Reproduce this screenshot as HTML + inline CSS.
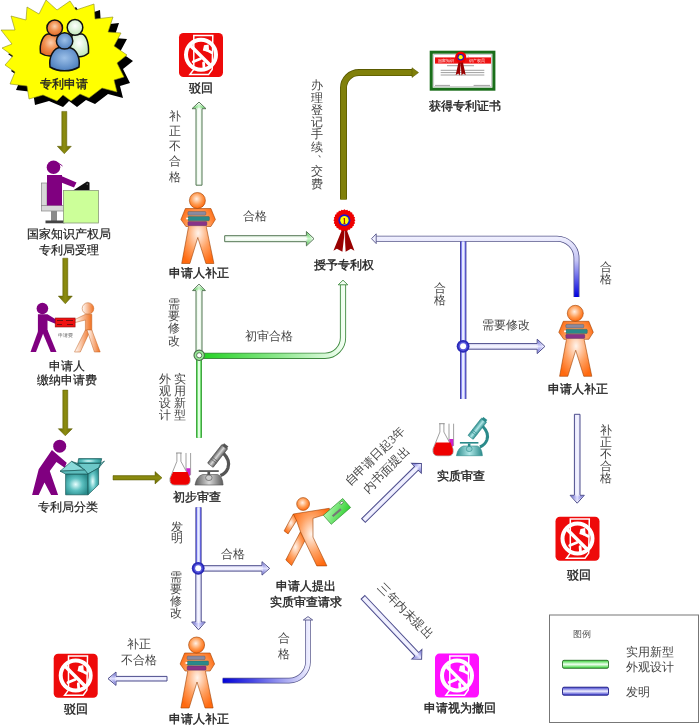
<!DOCTYPE html>
<html><head><meta charset="utf-8"><title>专利申请流程</title>
<style>html,body{margin:0;padding:0;background:#fff;}body{width:700px;height:728px;overflow:hidden;}
svg{display:block;font-family:"Liberation Serif",serif;will-change:transform;}</style></head>
<body><svg width="700" height="728" viewBox="0 0 700 728"><defs><linearGradient id="gArrG" x1="0" y1="0" x2="0" y2="1"><stop offset="0" stop-color="#b8e8b8"/><stop offset="0.5" stop-color="#ffffff"/><stop offset="1" stop-color="#b8e8b8"/></linearGradient><linearGradient id="gArrB" x1="0" y1="0" x2="0" y2="1"><stop offset="0" stop-color="#c8c8f4"/><stop offset="0.5" stop-color="#f4f4ff"/><stop offset="1" stop-color="#c8c8f4"/></linearGradient><linearGradient id="gHeadG" x1="0" y1="0" x2="0" y2="1"><stop offset="0" stop-color="#50c050"/><stop offset="0.5" stop-color="#c8f8c8"/><stop offset="1" stop-color="#50c050"/></linearGradient><linearGradient id="gHeadB" x1="0" y1="0" x2="0" y2="1"><stop offset="0" stop-color="#6060d0"/><stop offset="0.5" stop-color="#e0e0ff"/><stop offset="1" stop-color="#6060d0"/></linearGradient><linearGradient id="gOlive" x1="0" y1="0" x2="0" y2="1"><stop offset="0" stop-color="#6b6b00"/><stop offset="0.5" stop-color="#8c8c10"/><stop offset="1" stop-color="#6b6b00"/></linearGradient><radialGradient id="gOrg" cx="0.5" cy="0.45" r="0.6"><stop offset="0" stop-color="#fff4ec"/><stop offset="0.55" stop-color="#ffa060"/><stop offset="1" stop-color="#ff6a10"/></radialGradient><radialGradient id="gOrgHead" cx="0.45" cy="0.4" r="0.6"><stop offset="0" stop-color="#fff0e4"/><stop offset="0.6" stop-color="#ff9a50"/><stop offset="1" stop-color="#ff6a10"/></radialGradient><linearGradient id="gOrgLR" x1="0" y1="0" x2="1" y2="0"><stop offset="0" stop-color="#ffffff"/><stop offset="1" stop-color="#f07020"/></linearGradient><radialGradient id="gPOr" cx="0.5" cy="0.4" r="0.6"><stop offset="0" stop-color="#fbd0b0"/><stop offset="0.5" stop-color="#f09050"/><stop offset="1" stop-color="#e06a28"/></radialGradient><radialGradient id="gPGr" cx="0.5" cy="0.4" r="0.6"><stop offset="0" stop-color="#ffffff"/><stop offset="1" stop-color="#c0e8b8"/></radialGradient><radialGradient id="gPBl" cx="0.5" cy="0.45" r="0.6"><stop offset="0" stop-color="#9cc0e8"/><stop offset="1" stop-color="#4a7cbc"/></radialGradient><radialGradient id="gTeal" cx="0.45" cy="0.5" r="0.6"><stop offset="0" stop-color="#e8ffff"/><stop offset="0.5" stop-color="#5cc0c0"/><stop offset="1" stop-color="#2a8c8c"/></radialGradient><linearGradient id="gGreenL" x1="199" y1="0" x2="345" y2="0" gradientUnits="userSpaceOnUse"><stop offset="0" stop-color="#1ed01e"/><stop offset="0.55" stop-color="#8ee88e"/><stop offset="1" stop-color="#f4fff4"/></linearGradient><linearGradient id="gBlueL" x1="222" y1="0" x2="310" y2="0" gradientUnits="userSpaceOnUse"><stop offset="0" stop-color="#0000d8"/><stop offset="0.35" stop-color="#4848e4"/><stop offset="0.75" stop-color="#b0b0f2"/><stop offset="1" stop-color="#f0f0ff"/></linearGradient><linearGradient id="gBlueR" x1="0" y1="236" x2="0" y2="297" gradientUnits="userSpaceOnUse"><stop offset="0" stop-color="#f2f2ff"/><stop offset="0.4" stop-color="#c4c4f4"/><stop offset="0.75" stop-color="#5050e8"/><stop offset="1" stop-color="#0000e0"/></linearGradient><linearGradient id="gLegG" x1="0" y1="0" x2="0" y2="1"><stop offset="0" stop-color="#2ed02e"/><stop offset="0.5" stop-color="#f0fff0"/><stop offset="1" stop-color="#2ed02e"/></linearGradient><linearGradient id="gLegB" x1="0" y1="0" x2="0" y2="1"><stop offset="0" stop-color="#3a3ad0"/><stop offset="0.5" stop-color="#f0f0ff"/><stop offset="1" stop-color="#3a3ad0"/></linearGradient><linearGradient id="gCard" x1="0" y1="0" x2="1" y2="1"><stop offset="0" stop-color="#b0f8b0"/><stop offset="1" stop-color="#30d030"/></linearGradient><linearGradient id="gMicG" x1="0" y1="0" x2="1" y2="0"><stop offset="0" stop-color="#5a5a5a"/><stop offset="0.5" stop-color="#d8d8d8"/><stop offset="1" stop-color="#5a5a5a"/></linearGradient><linearGradient id="gMicT" x1="0" y1="0" x2="1" y2="0"><stop offset="0" stop-color="#2a8a8a"/><stop offset="0.5" stop-color="#b0e8e8"/><stop offset="1" stop-color="#2a8a8a"/></linearGradient></defs><rect width="700" height="728" fill="#ffffff"/><polygon points="52,6 63,16 76,7 82,16 100,10 101,25 119,23 114,38 127,39 120,52 133,61 123,69 130,83 120,86 123,98 108,94 95,104 86,100 77,107 69,101 63,107 49,101 35,105 33,92 16,90 21,78 11,71 19,62 8,54 18,50 7,36 21,36 17,22 32,26 33,13 45,20" fill="#000"/><polygon points="46,0 57,10 70,1 76,10 94,4 95,19 113,17 108,32 121,33 114,46 127,55 117,63 124,77 114,80 117,92 102,88 89,98 80,94 71,101 63,95 57,101 43,95 29,99 27,86 10,84 15,72 5,65 13,56 2,48 12,44 1,30 15,30 11,16 26,20 27,7 39,14" fill="#ffff00" stroke="#8a8a20" stroke-width="0.6"/><g stroke="#111" stroke-width="1.5"><path d="M40.5,53 C39,42 44,34.5 48,34 L56,34 C60,36 62,42 61,52 C55,57 46,57 40.5,53 Z" fill="url(#gPOr)"/><circle cx="54.7" cy="27.9" r="7.8" fill="url(#gPOr)"/><path d="M70,53 C69,42 71,35 74,34 L82,34 C86,35 89,42 88.5,53 C83,58 75,58 70,53 Z" fill="url(#gPGr)"/><circle cx="75" cy="27.4" r="7.8" fill="url(#gPGr)"/><path d="M50,67 C48.5,56 54,48 60,47.5 L69,47.5 C76,48.5 80.5,57 79,67 C71,72 58,72 50,67 Z" fill="url(#gPBl)"/><circle cx="64.6" cy="40.9" r="8.2" fill="url(#gPBl)"/></g><text x="64" y="87.5" font-size="12" fill="#222" font-weight="normal" text-anchor="middle" stroke="#222" stroke-width="0.35">专利申请</text><g transform="translate(64.30,111.40) rotate(90.00)"><polygon points="0,-2.5 34.899999999999984,-2.5 34.899999999999984,-7 42.30,0 34.899999999999984,7 34.899999999999984,2.5 0,2.5" fill="url(#gOlive)" stroke="#5a5a00" stroke-width="0.5"/></g><g transform="translate(65.30,258.20) rotate(90.00)"><polygon points="0,-2.5 37.90000000000002,-2.5 37.90000000000002,-7 45.60,0 37.90000000000002,7 37.90000000000002,2.5 0,2.5" fill="url(#gOlive)" stroke="#5a5a00" stroke-width="0.5"/></g><g transform="translate(65.30,390.10) rotate(90.00)"><polygon points="0,-2.5 38.59999999999999,-2.5 38.59999999999999,-7 45.70,0 38.59999999999999,7 38.59999999999999,2.5 0,2.5" fill="url(#gOlive)" stroke="#5a5a00" stroke-width="0.5"/></g><g transform="translate(113.00,477.80) rotate(0.00)"><polygon points="0,-2.2 42.0,-2.2 42.0,-6.2 49.00,0 42.0,6.2 42.0,2.2 0,2.2" fill="url(#gOlive)" stroke="#5a5a00" stroke-width="0.5"/></g><g><rect x="41.5" y="183" width="5.5" height="23" fill="#d8d8d8" stroke="#888" stroke-width="0.7"/><rect x="41.5" y="205.5" width="23" height="5.5" fill="#d8d8d8" stroke="#888" stroke-width="0.7"/><rect x="51" y="211" width="6" height="10" fill="#8a8a8a"/><rect x="45.5" y="220.5" width="19" height="2.8" fill="#444"/><rect x="47" y="175" width="15" height="30.5" fill="#800080"/><polygon points="59,175 76.5,182.5 74,187.5 60,182" fill="#800080"/><circle cx="53.5" cy="167.3" r="6.8" fill="#800080"/><path d="M57,163 Q60,163.5 62.5,166" stroke="#800080" stroke-width="0.9" fill="none"/><polygon points="73,190.5 87,181.5 89.5,182.5 89.5,190.5" fill="#111"/><circle cx="87.2" cy="184" r="0.6" fill="#ccc"/><rect x="63.5" y="190.5" width="35" height="32.5" fill="#ccff99" stroke="#8a9a7a" stroke-width="0.8"/></g><text x="68.9" y="237.5" font-size="12" fill="#222" font-weight="normal" text-anchor="middle" stroke="#222" stroke-width="0.2">国家知识产权局</text><text x="69.3" y="254" font-size="12" fill="#222" font-weight="normal" text-anchor="middle" stroke="#222" stroke-width="0.2">专利局受理</text><g fill="#800080"><circle cx="42.4" cy="308.5" r="5.8"/><polygon points="37.9,314.3 47.5,314.3 56,319.5 56,324 47.5,320.5 47.5,332.3 37.9,332.3"/><polygon points="38.5,330 44.5,330 36,352 30.5,352"/><polygon points="41.5,330 47.5,330 56.5,352 50.7,352"/></g><g fill="url(#gOrgLR)" stroke="#c06020" stroke-width="0.5"><circle cx="88" cy="308.5" r="5.8"/><polygon points="91.8,314.3 85.4,314.3 75,319.5 75,322.5 85.4,320 85.4,332.3 91.8,332.3"/><polygon points="85.4,330 90.5,330 80.3,352 74.5,352"/><polygon points="87,330 91.8,330 100.2,352 94.4,352"/></g><rect x="55.2" y="318" width="19.9" height="9" fill="#ee1111" stroke="#881111" stroke-width="0.6"/><path d="M57,320.5 h6 M66,320.5 h7 M57,324.5 h5 M67,324.5 h6" stroke="#661111" stroke-width="0.9"/><text x="65.2" y="337" font-size="5.2" fill="#666" font-weight="normal" text-anchor="middle" >申请费</text><text x="67" y="369.5" font-size="12" fill="#222" font-weight="normal" text-anchor="middle" stroke="#222" stroke-width="0.2">申请人</text><text x="66.8" y="384" font-size="12" fill="#222" font-weight="normal" text-anchor="middle" stroke="#222" stroke-width="0.2">缴纳申请费</text><g fill="#800080"><circle cx="59.7" cy="446.2" r="6.5"/><polygon points="51.9,450 66.7,462.7 64.7,467.7 56.4,461.9 49.8,471 58.1,494.9 51.1,494.9 44.5,482.5 38.7,494.9 32.1,494.9 38.7,469.3"/></g><g stroke="#1a5a5a" stroke-width="0.7" stroke-linejoin="round"><polygon points="71.5,461.4 77.8,463.4 100.6,463.4 98.6,468 88,474 84.9,470" fill="#2f9090"/><polygon points="78.6,458.6 101.7,458.6 100.6,463.4 77.8,463.4" fill="url(#gTeal)"/><polygon points="98.6,468 104.5,461 100.6,463.4" fill="#7fd4d4"/><polygon points="77.8,463.4 100.6,463.4 98.6,468 88,474" fill="#6cc8c8"/><rect x="65.6" y="474" width="22.4" height="20.8" fill="url(#gTeal)"/><polygon points="88,474 98.6,468 98.6,484.6 88,494.8" fill="url(#gTeal)"/><polygon points="60.1,471.2 71.5,461.4 84.9,470" fill="#8adada"/><polygon points="60.1,471.2 65.6,474 88,474 84.9,470" fill="#5cbcbc"/></g><text x="68" y="510.5" font-size="12" fill="#222" font-weight="normal" text-anchor="middle" stroke="#222" stroke-width="0.2">专利局分类</text><g transform="translate(179,33)"><rect x="0" y="0" width="44" height="44" rx="4.5" fill="#ee0a0a"/><path d="M14.8,2.4 L33.8,2.4 L33.2,36.4 L29.5,41.6 L10.9,41.6 L14.8,36.4 Z" fill="none" stroke="#fff" stroke-width="1.5" stroke-linejoin="miter"/><polygon points="25,12.2 29.6,11.4 30,16 28.4,18.8 23.8,17.4" fill="#fff"/><path d="M28,17 L32.6,19.6 M21.5,25.8 L14.2,28.8 M24.6,30 L25,35" stroke="#fff" stroke-width="2.8" fill="none" stroke-linecap="round"/><circle cx="22" cy="21.8" r="15" fill="none" stroke="#fff" stroke-width="4"/><line x1="11.2" y1="12.3" x2="31.5" y2="32.6" stroke="#fff" stroke-width="3.5"/></g><text x="200.5" y="91.5" font-size="12" fill="#222" font-weight="normal" text-anchor="middle" stroke="#222" stroke-width="0.35">驳回</text><g transform="translate(555.5,516.7)"><rect x="0" y="0" width="44" height="44" rx="4.5" fill="#ee0a0a"/><path d="M14.8,2.4 L33.8,2.4 L33.2,36.4 L29.5,41.6 L10.9,41.6 L14.8,36.4 Z" fill="none" stroke="#fff" stroke-width="1.5" stroke-linejoin="miter"/><polygon points="25,12.2 29.6,11.4 30,16 28.4,18.8 23.8,17.4" fill="#fff"/><path d="M28,17 L32.6,19.6 M21.5,25.8 L14.2,28.8 M24.6,30 L25,35" stroke="#fff" stroke-width="2.8" fill="none" stroke-linecap="round"/><circle cx="22" cy="21.8" r="15" fill="none" stroke="#fff" stroke-width="4"/><line x1="11.2" y1="12.3" x2="31.5" y2="32.6" stroke="#fff" stroke-width="3.5"/></g><text x="579.2" y="579" font-size="12" fill="#222" font-weight="normal" text-anchor="middle" stroke="#222" stroke-width="0.35">驳回</text><g transform="translate(53.7,653.7)"><rect x="0" y="0" width="44" height="44" rx="4.5" fill="#ee0a0a"/><path d="M14.8,2.4 L33.8,2.4 L33.2,36.4 L29.5,41.6 L10.9,41.6 L14.8,36.4 Z" fill="none" stroke="#fff" stroke-width="1.5" stroke-linejoin="miter"/><polygon points="25,12.2 29.6,11.4 30,16 28.4,18.8 23.8,17.4" fill="#fff"/><path d="M28,17 L32.6,19.6 M21.5,25.8 L14.2,28.8 M24.6,30 L25,35" stroke="#fff" stroke-width="2.8" fill="none" stroke-linecap="round"/><circle cx="22" cy="21.8" r="15" fill="none" stroke="#fff" stroke-width="4"/><line x1="11.2" y1="12.3" x2="31.5" y2="32.6" stroke="#fff" stroke-width="3.5"/></g><text x="75.6" y="713.3" font-size="12" fill="#222" font-weight="normal" text-anchor="middle" stroke="#222" stroke-width="0.35">驳回</text><g transform="translate(435,653.6)"><rect x="0" y="0" width="44" height="44" rx="4.5" fill="#ff10ff"/><path d="M14.8,2.4 L33.8,2.4 L33.2,36.4 L29.5,41.6 L10.9,41.6 L14.8,36.4 Z" fill="none" stroke="#fff" stroke-width="1.5" stroke-linejoin="miter"/><polygon points="25,12.2 29.6,11.4 30,16 28.4,18.8 23.8,17.4" fill="#fff"/><path d="M28,17 L32.6,19.6 M21.5,25.8 L14.2,28.8 M24.6,30 L25,35" stroke="#fff" stroke-width="2.8" fill="none" stroke-linecap="round"/><circle cx="22" cy="21.8" r="15" fill="none" stroke="#fff" stroke-width="4"/><line x1="11.2" y1="12.3" x2="31.5" y2="32.6" stroke="#fff" stroke-width="3.5"/></g><text x="460.4" y="711.6" font-size="12" fill="#222" font-weight="normal" text-anchor="middle" stroke="#222" stroke-width="0.35">申请视为撤回</text><g transform="translate(197.4,200.5)"><g stroke="#a04000" stroke-width="0.6"><path d="M-12,8 L13.5,8 L18,19 L13.5,26 L9,26 L9,27 L16.5,63 L8.5,63 L0.4,37 L-7.5,63 L-15.7,63 L-9,27 L-9,26 L-11.5,26 L-16.5,19 Z" fill="url(#gOrg)"/><circle cx="0" cy="0" r="8" fill="url(#gOrgHead)"/></g><rect x="-9.5" y="11" width="18" height="3.7" rx="1" fill="#8a8aa0" stroke="#555" stroke-width="0.4"/><rect x="-9.5" y="16" width="21.5" height="4.3" rx="1" fill="#2a8a8a" stroke="#355" stroke-width="0.4"/><rect x="-9.5" y="21" width="19" height="4.2" rx="1" fill="#883388" stroke="#535" stroke-width="0.4"/><circle cx="-10.2" cy="18" r="1.1" fill="#fff"/></g><text x="199" y="277" font-size="12" fill="#222" font-weight="normal" text-anchor="middle" stroke="#222" stroke-width="0.35">申请人补正</text><g transform="translate(575.3,313.3)"><g stroke="#a04000" stroke-width="0.6"><path d="M-12,8 L13.5,8 L18,19 L13.5,26 L9,26 L9,27 L16.5,63 L8.5,63 L0.4,37 L-7.5,63 L-15.7,63 L-9,27 L-9,26 L-11.5,26 L-16.5,19 Z" fill="url(#gOrg)"/><circle cx="0" cy="0" r="8" fill="url(#gOrgHead)"/></g><rect x="-9.5" y="11" width="18" height="3.7" rx="1" fill="#8a8aa0" stroke="#555" stroke-width="0.4"/><rect x="-9.5" y="16" width="21.5" height="4.3" rx="1" fill="#2a8a8a" stroke="#355" stroke-width="0.4"/><rect x="-9.5" y="21" width="19" height="4.2" rx="1" fill="#883388" stroke="#535" stroke-width="0.4"/><circle cx="-10.2" cy="18" r="1.1" fill="#fff"/></g><text x="577.5" y="392.5" font-size="12" fill="#222" font-weight="normal" text-anchor="middle" stroke="#222" stroke-width="0.35">申请人补正</text><g transform="translate(196.6,645)"><g stroke="#a04000" stroke-width="0.6"><path d="M-12,8 L13.5,8 L18,19 L13.5,26 L9,26 L9,27 L16.5,63 L8.5,63 L0.4,37 L-7.5,63 L-15.7,63 L-9,27 L-9,26 L-11.5,26 L-16.5,19 Z" fill="url(#gOrg)"/><circle cx="0" cy="0" r="8" fill="url(#gOrgHead)"/></g><rect x="-9.5" y="11" width="18" height="3.7" rx="1" fill="#8a8aa0" stroke="#555" stroke-width="0.4"/><rect x="-9.5" y="16" width="21.5" height="4.3" rx="1" fill="#2a8a8a" stroke="#355" stroke-width="0.4"/><rect x="-9.5" y="21" width="19" height="4.2" rx="1" fill="#883388" stroke="#535" stroke-width="0.4"/><circle cx="-10.2" cy="18" r="1.1" fill="#fff"/></g><text x="198.5" y="723" font-size="12" fill="#222" font-weight="normal" text-anchor="middle" stroke="#222" stroke-width="0.35">申请人补正</text><g transform="translate(199.00,185.20) rotate(-90.00)"><polygon points="0,-3 76.5,-3 76.5,-7 83.10,0 76.5,7 76.5,3 0,3" fill="url(#gArrG)" stroke="#557755" stroke-width="1" stroke-linejoin="miter"/><polygon points="77.1,-5.7 81.50,0 77.1,5.7" fill="url(#gHeadG)" opacity="0.9"/><rect x="76.0" y="-2.5" width="1.4" height="5" fill="url(#gArrG)"/></g><g transform="translate(224.70,238.70) rotate(0.00)"><polygon points="0,-3 81.70000000000002,-3 81.70000000000002,-7.2 89.30,0 81.70000000000002,7.2 81.70000000000002,3 0,3" fill="url(#gArrG)" stroke="#557755" stroke-width="1" stroke-linejoin="miter"/><polygon points="82.30000000000001,-5.9 87.70,0 82.30000000000001,5.9" fill="url(#gHeadG)" opacity="0.9"/><rect x="81.20000000000002" y="-2.5" width="1.4" height="5" fill="url(#gArrG)"/></g><path d="M199,437.8 L199,355" fill="none" stroke="#3f983f" stroke-width="6" stroke-linecap="butt"/><path d="M199,437.8 L199,355" fill="none" stroke="#48cc48" stroke-width="4.6"/><path d="M199,437.8 L199,355" fill="none" stroke="#a8eea8" stroke-width="3"/><path d="M199,437.8 L199,355" fill="none" stroke="#e8ffe8" stroke-width="1.7999999999999998"/><g transform="translate(199.00,355.00) rotate(-90.00)"><polygon points="0,-3 64.39999999999998,-3 64.39999999999998,-6.4 70.90,0 64.39999999999998,6.4 64.39999999999998,3 0,3" fill="url(#gArrG)" stroke="#557755" stroke-width="1" stroke-linejoin="miter"/><polygon points="64.99999999999997,-5.1000000000000005 69.30,0 64.99999999999997,5.1000000000000005" fill="url(#gHeadG)" opacity="0.9"/><rect x="63.89999999999998" y="-2.5" width="1.4" height="5" fill="url(#gArrG)"/></g><path d="M199,355.8 L325,355.8 A18,18 0 0 0 343,337.8 L343,284.5" fill="none" stroke="#3f8a3f" stroke-width="6.2"/><path d="M199,355.8 L325,355.8 A18,18 0 0 0 343,337.8 L343,284.5" fill="none" stroke="url(#gGreenL)" stroke-width="4.4"/><polygon points="338.2,284.8 343,280.2 347.8,284.8" fill="#f4fff4" stroke="#3f8a3f" stroke-width="0.9"/><circle cx="199.2" cy="355.3" r="5.2" fill="#98ec98" stroke="#4a6a4a" stroke-width="1.1"/><circle cx="199.2" cy="355.3" r="2.6" fill="#ffffff" stroke="#4a6a4a" stroke-width="0.9"/><path d="M343.5,199.5 L343.5,88 A15.5,15.5 0 0 1 359,72.6 L413,72.6" fill="none" stroke="#5a5a00" stroke-width="7"/><path d="M343.5,199.5 L343.5,88 A15.5,15.5 0 0 1 359,72.6 L413,72.6" fill="none" stroke="#80800a" stroke-width="5.4"/><polygon points="412,67.8 418.5,72.6 412,77.4" fill="#80800a" stroke="#5a5a00" stroke-width="0.6"/><path d="M198.5,507.3 L198.5,568" fill="none" stroke="#3c3c8c" stroke-width="6.2" stroke-linecap="butt"/><path d="M198.5,507.3 L198.5,568" fill="none" stroke="#6a6aee" stroke-width="4.6"/><path d="M198.5,507.3 L198.5,568" fill="none" stroke="#b4b4fa" stroke-width="3.0"/><path d="M198.5,507.3 L198.5,568" fill="none" stroke="#e8eeff" stroke-width="2.0"/><g transform="translate(198.50,568.40) rotate(0.00)"><polygon points="0,-2.7 63.50000000000002,-2.7 63.50000000000002,-6.7 71.10,0 63.50000000000002,6.7 63.50000000000002,2.7 0,2.7" fill="url(#gArrB)" stroke="#4c4c8c" stroke-width="1" stroke-linejoin="miter"/><polygon points="64.10000000000002,-5.4 69.50,0 64.10000000000002,5.4" fill="url(#gHeadB)" opacity="0.9"/><rect x="63.00000000000002" y="-2.2" width="1.4" height="4.4" fill="url(#gArrB)"/></g><g transform="translate(198.50,568.40) rotate(90.00)"><polygon points="0,-2.7 53.59999999999998,-2.7 53.59999999999998,-6.8 61.40,0 53.59999999999998,6.8 53.59999999999998,2.7 0,2.7" fill="url(#gArrB)" stroke="#4c4c8c" stroke-width="1" stroke-linejoin="miter"/><polygon points="54.19999999999998,-5.5 59.80,0 54.19999999999998,5.5" fill="url(#gHeadB)" opacity="0.9"/><rect x="53.09999999999998" y="-2.2" width="1.4" height="4.4" fill="url(#gArrB)"/></g><circle cx="198.2" cy="568.3" r="6.4" fill="#2a2ab8"/><circle cx="198.2" cy="568.3" r="4.6" fill="#5656dc"/><circle cx="198.2" cy="568.3" r="3" fill="#ffffff"/><g transform="translate(167.00,678.70) rotate(180.00)"><polygon points="0,-2.3 51.0,-2.3 51.0,-6.7 59.00,0 51.0,6.7 51.0,2.3 0,2.3" fill="url(#gArrB)" stroke="#4c4c8c" stroke-width="1" stroke-linejoin="miter"/><polygon points="51.6,-5.4 57.40,0 51.6,5.4" fill="url(#gHeadB)" opacity="0.9"/><rect x="50.5" y="-1.7999999999999998" width="1.4" height="3.5999999999999996" fill="url(#gArrB)"/></g><path d="M222.7,680.6 L289,680.6 A19,19 0 0 0 308,661.6 L308,620" fill="none" stroke="#55558a" stroke-width="5.6"/><path d="M222.7,680.6 L289,680.6 A19,19 0 0 0 308,661.6 L308,620" fill="none" stroke="url(#gBlueL)" stroke-width="4.2"/><polygon points="303.3,620 308,616.6 312.7,620" fill="#f4f4ff" stroke="#55558a" stroke-width="0.9"/><g transform="translate(363.50,520.50) rotate(-44.60)"><polygon points="0,-2.6 74.41924741412699,-2.6 74.41924741412699,-6.9 81.32,0 74.41924741412699,6.9 74.41924741412699,2.6 0,2.6" fill="url(#gArrB)" stroke="#4c4c8c" stroke-width="1" stroke-linejoin="miter"/><polygon points="75.01924741412698,-5.6000000000000005 79.72,0 75.01924741412698,5.6000000000000005" fill="url(#gHeadB)" opacity="0.9"/><rect x="73.91924741412699" y="-2.1" width="1.4" height="4.2" fill="url(#gArrB)"/></g><g transform="translate(363.00,597.30) rotate(46.61)"><polygon points="0,-2.6 78.41096060882214,-2.6 78.41096060882214,-6.9 85.31,0 78.41096060882214,6.9 78.41096060882214,2.6 0,2.6" fill="url(#gArrB)" stroke="#4c4c8c" stroke-width="1" stroke-linejoin="miter"/><polygon points="79.01096060882213,-5.6000000000000005 83.71,0 79.01096060882213,5.6000000000000005" fill="url(#gHeadB)" opacity="0.9"/><rect x="77.91096060882214" y="-2.1" width="1.4" height="4.2" fill="url(#gArrB)"/></g><path d="M376,238.7 L557,238.7 A19.5,19.5 0 0 1 576.5,258.2 L576.5,297" fill="none" stroke="#55558a" stroke-width="6"/><path d="M376,238.7 L557,238.7 A19.5,19.5 0 0 1 576.5,258.2 L576.5,297" fill="none" stroke="url(#gBlueR)" stroke-width="4.4"/><polygon points="376.2,233.8 371.5,238.7 376.2,243.6" fill="#f0f0ff" stroke="#55558a" stroke-width="0.9"/><path d="M463.2,241.6 L463.2,399" fill="none" stroke="#3c3c8c" stroke-width="6.4" stroke-linecap="butt"/><path d="M463.2,241.6 L463.2,399" fill="none" stroke="#6a6aee" stroke-width="4.800000000000001"/><path d="M463.2,241.6 L463.2,399" fill="none" stroke="#b4b4fa" stroke-width="3.2"/><path d="M463.2,241.6 L463.2,399" fill="none" stroke="#e8eeff" stroke-width="2.2"/><g transform="translate(463.00,346.40) rotate(0.00)"><polygon points="0,-2.8 74.19999999999997,-2.8 74.19999999999997,-7.2 81.90,0 74.19999999999997,7.2 74.19999999999997,2.8 0,2.8" fill="url(#gArrB)" stroke="#4c4c8c" stroke-width="1" stroke-linejoin="miter"/><polygon points="74.79999999999997,-5.9 80.30,0 74.79999999999997,5.9" fill="url(#gHeadB)" opacity="0.9"/><rect x="73.69999999999997" y="-2.3" width="1.4" height="4.6" fill="url(#gArrB)"/></g><circle cx="463.1" cy="346.3" r="6.4" fill="#2a2ab8"/><circle cx="463.1" cy="346.3" r="4.6" fill="#5656dc"/><circle cx="463.1" cy="346.3" r="3" fill="#ffffff"/><g transform="translate(577.20,414.30) rotate(90.00)"><polygon points="0,-2.8 80.99999999999997,-2.8 80.99999999999997,-7.1 88.90,0 80.99999999999997,7.1 80.99999999999997,2.8 0,2.8" fill="url(#gArrB)" stroke="#4c4c8c" stroke-width="1" stroke-linejoin="miter"/><polygon points="81.59999999999997,-5.8 87.30,0 81.59999999999997,5.8" fill="url(#gHeadB)" opacity="0.9"/><rect x="80.49999999999997" y="-2.3" width="1.4" height="4.6" fill="url(#gArrB)"/></g><g transform="translate(344.4,220.3)"><polygon points="-1.0,6.0 -11.0,30.5 -7.5,28.5 -2.0,31.5 0.6,9.0" fill="#990000"/><polygon points="1.0,6.0 10.0,30.5 6.5,28.5 1.2,31.5 -0.2,9.0" fill="#990000"/><path d="M0.2,10.0 L0.4,31.0" stroke="#fff" stroke-width="0.5"/><polygon points="11.00,0.00 10.03,1.32 10.63,2.85 9.35,3.87 9.53,5.50 8.03,6.16 7.78,7.78 6.16,8.03 5.50,9.53 3.87,9.35 2.85,10.63 1.32,10.03 0.00,11.00 -1.32,10.03 -2.85,10.63 -3.87,9.35 -5.50,9.53 -6.16,8.03 -7.78,7.78 -8.03,6.16 -9.53,5.50 -9.35,3.87 -10.63,2.85 -10.03,1.32 -11.00,0.00 -10.03,-1.32 -10.63,-2.85 -9.35,-3.87 -9.53,-5.50 -8.03,-6.16 -7.78,-7.78 -6.16,-8.03 -5.50,-9.53 -3.87,-9.35 -2.85,-10.63 -1.32,-10.03 -0.00,-11.00 1.32,-10.03 2.85,-10.63 3.87,-9.35 5.50,-9.53 6.16,-8.03 7.78,-7.78 8.03,-6.16 9.53,-5.50 9.35,-3.87 10.63,-2.85 10.03,-1.32" fill="#ee0000"/><circle r="6.05" fill="#1a1acc"/><circle r="4.18" fill="#ffff00"/><text x="0" y="3.30" font-size="8.25" fill="#aa2200" font-weight="bold" text-anchor="middle">1</text></g><text x="344" y="268.5" font-size="12" fill="#222" font-weight="normal" text-anchor="middle" stroke="#222" stroke-width="0.35">授予专利权</text><rect x="431.2" y="52.2" width="62.7" height="37" fill="#fff" stroke="#1a6e1a" stroke-width="3"/><rect x="433.8" y="54.6" width="57.5" height="32.2" fill="none" stroke="#999" stroke-width="0.5"/><rect x="435" y="57.4" width="56" height="6.2" fill="#ee1111"/><text x="446" y="62.3" font-size="4.3" fill="#fff" text-anchor="middle">国家知识</text><text x="477" y="62.3" font-size="4.3" fill="#fff" text-anchor="middle">识产权局</text><path d="M447,65.7 h27 M440.7,70.3 h43.6 M440.7,72.6 h43.6 M440.7,75 h43.6 M435,85.4 h15 M473.6,85.4 h16.4" stroke="#777" stroke-width="0.7"/><polygon points="459,60 455.7,75 458.3,73.5 459.8,75.5 461,61" fill="#990000"/><polygon points="462.4,60 465.7,75 463.1,73.5 461.6,75.5 460.4,61" fill="#990000"/><path d="M465,55 Q468,54.5 469,56.5 L466,58" fill="#fff" stroke="#aaa" stroke-width="0.4"/><circle cx="460.7" cy="57.2" r="5.6" fill="#ee0000"/><circle cx="460.7" cy="57.2" r="3.2" fill="#1a1acc"/><circle cx="460.7" cy="57.2" r="2.1" fill="#ffff00"/><text x="465.3" y="110" font-size="12" fill="#222" font-weight="normal" text-anchor="middle" stroke="#222" stroke-width="0.35">获得专利证书</text><g stroke="#a04000" stroke-width="0.6" fill="url(#gOrg)"><polygon points="293.3,514 297.5,519 288.1,533.9 284.1,530.9"/><polygon points="300.4,531.8 305,540.4 291.6,565.6 285.8,560"/><polygon points="293.3,514 329.3,508.3 329.6,513.2 313,518.3 313,537.1 326.9,565.9 316.8,565.9 300.6,532 296.3,520"/><circle cx="303.1" cy="504" r="6.4" fill="url(#gOrgHead)"/></g><g transform="translate(337,511.4) rotate(-41)"><rect x="-12.8" y="-6" width="25.6" height="12" fill="url(#gCard)" stroke="#228822" stroke-width="0.6"/><rect x="-6.5" y="-0.3" width="11" height="2.2" fill="#777"/><path d="M7.5,-4.5 l3,0 l0,2 l-3,0 z" fill="#fff" stroke="#333" stroke-width="0.5"/></g><text x="306" y="590" font-size="12" fill="#222" font-weight="normal" text-anchor="middle" stroke="#222" stroke-width="0.35">申请人提出</text><text x="305.7" y="606" font-size="12" fill="#222" font-weight="normal" text-anchor="middle" stroke="#222" stroke-width="0.35">实质审查请求</text><g transform="translate(432.4,416)"><path d="M16.6,7.7 L16.6,29.5 Q18.9,32.5 21.2,29.5 L21.2,7.7" fill="#fff" stroke="#777" stroke-width="0.7"/><path d="M16.9,23 L16.9,29.4 Q18.9,32 20.9,29.4 L20.9,23 Z" fill="#cc22cc"/><path d="M7.5,7.7 L7.5,16 L0.6,33 Q0,39.7 5,39.7 L16.5,39.7 Q21.6,39.7 20.6,33 L11.5,16 L11.5,7.7" fill="#fff" stroke="#777" stroke-width="0.7"/><path d="M3.6,26.6 L18.2,26.6 L20.4,33 Q21.3,39.4 16.5,39.4 L5,39.4 Q0.2,39.4 0.9,33 Z" fill="#ee0000"/><path d="M6.7,7.7 h5.6" stroke="#777" stroke-width="0.8"/><g transform="translate(24,39.7) scale(1.0) translate(-24,-39.7)"><path d="M50,10 Q57,17 54.5,24 Q52.5,29 47.5,31" fill="none" stroke="#2a8a8a" stroke-width="3"/><path d="M24,39.7 Q25.5,31.5 31,30 L45,30 Q49.5,31.5 50,39.7 Z" fill="url(#gMicT)" stroke="#2a8a8a" stroke-width="0.6"/><ellipse cx="36.8" cy="33" rx="3" ry="2.6" fill="#8ed0d0" stroke="#2a8a8a" stroke-width="0.6"/><rect x="27.5" y="26" width="18.5" height="1.6" fill="#2a8a8a"/><rect x="35.5" y="27.5" width="2.5" height="3" fill="#2a8a8a"/><g transform="translate(44.3,13.5) rotate(38)"><rect x="-3.3" y="-12" width="6.6" height="22" rx="0.6" fill="url(#gMicT)" stroke="#2a8a8a" stroke-width="0.6"/><rect x="-2.5" y="-14" width="5" height="3" fill="#2a8a8a"/><path d="M-3.3,3 h6.6 M-3.3,5 h6.6" stroke="#2a8a8a" stroke-width="0.6"/></g></g></g><g transform="translate(169.4,445.3)"><path d="M16.6,7.7 L16.6,29.5 Q18.9,32.5 21.2,29.5 L21.2,7.7" fill="#fff" stroke="#777" stroke-width="0.7"/><path d="M16.9,23 L16.9,29.4 Q18.9,32 20.9,29.4 L20.9,23 Z" fill="#cc22cc"/><path d="M7.5,7.7 L7.5,16 L0.6,33 Q0,39.7 5,39.7 L16.5,39.7 Q21.6,39.7 20.6,33 L11.5,16 L11.5,7.7" fill="#fff" stroke="#777" stroke-width="0.7"/><path d="M3.6,26.6 L18.2,26.6 L20.4,33 Q21.3,39.4 16.5,39.4 L5,39.4 Q0.2,39.4 0.9,33 Z" fill="#ee0000"/><path d="M6.7,7.7 h5.6" stroke="#777" stroke-width="0.8"/><g transform="translate(25.6,39.7) scale(1.08) translate(-24,-39.7)"><path d="M50,10 Q57,17 54.5,24 Q52.5,29 47.5,31" fill="none" stroke="#555" stroke-width="3"/><path d="M24,39.7 Q25.5,31.5 31,30 L45,30 Q49.5,31.5 50,39.7 Z" fill="url(#gMicG)" stroke="#555" stroke-width="0.6"/><ellipse cx="36.8" cy="33" rx="3" ry="2.6" fill="#cfcfcf" stroke="#555" stroke-width="0.6"/><rect x="27.5" y="26" width="18.5" height="1.6" fill="#555"/><rect x="35.5" y="27.5" width="2.5" height="3" fill="#555"/><g transform="translate(44.3,13.5) rotate(38)"><rect x="-3.3" y="-12" width="6.6" height="22" rx="0.6" fill="url(#gMicG)" stroke="#555" stroke-width="0.6"/><rect x="-2.5" y="-14" width="5" height="3" fill="#555"/><path d="M-3.3,3 h6.6 M-3.3,5 h6.6" stroke="#555" stroke-width="0.6"/></g></g></g><text x="461" y="479.5" font-size="12" fill="#222" font-weight="normal" text-anchor="middle" stroke="#222" stroke-width="0.35">实质审查</text><text x="197" y="501" font-size="12" fill="#222" font-weight="normal" text-anchor="middle" stroke="#222" stroke-width="0.35">初步审查</text><rect x="549.5" y="615" width="149" height="107.5" fill="none" stroke="#777" stroke-width="1"/><text x="582" y="637" font-size="8.5" fill="#555" font-weight="normal" text-anchor="middle" >图例</text><rect x="562.5" y="660.3" width="46" height="8" rx="1.5" fill="url(#gLegG)" stroke="#2a6a2a" stroke-width="0.9"/><rect x="562.5" y="687.2" width="46" height="8" rx="1.5" fill="url(#gLegB)" stroke="#1a1a80" stroke-width="0.9"/><text x="626.4" y="655.5" font-size="12" fill="#444" font-weight="normal" text-anchor="start" >实用新型</text><text x="626.4" y="671.2" font-size="12" fill="#444" font-weight="normal" text-anchor="start" >外观设计</text><text x="626.4" y="696.4" font-size="12" fill="#444" font-weight="normal" text-anchor="start" >发明</text><text x="175.1" y="119.8" font-size="12" fill="#444" font-weight="normal" text-anchor="middle">补</text><text x="175.1" y="135.0" font-size="12" fill="#444" font-weight="normal" text-anchor="middle">正</text><text x="175.1" y="150.2" font-size="12" fill="#444" font-weight="normal" text-anchor="middle">不</text><text x="175.1" y="165.4" font-size="12" fill="#444" font-weight="normal" text-anchor="middle">合</text><text x="175.1" y="180.6" font-size="12" fill="#444" font-weight="normal" text-anchor="middle">格</text><text x="255" y="220.3" font-size="12" fill="#444" font-weight="normal" text-anchor="middle" >合格</text><text x="316.5" y="89.2" font-size="12" fill="#444" font-weight="normal" text-anchor="middle">办</text><text x="316.5" y="101.5" font-size="12" fill="#444" font-weight="normal" text-anchor="middle">理</text><text x="316.5" y="113.8" font-size="12" fill="#444" font-weight="normal" text-anchor="middle">登</text><text x="316.5" y="126.1" font-size="12" fill="#444" font-weight="normal" text-anchor="middle">记</text><text x="316.5" y="138.4" font-size="12" fill="#444" font-weight="normal" text-anchor="middle">手</text><text x="316.5" y="150.7" font-size="12" fill="#444" font-weight="normal" text-anchor="middle">续</text><text x="323.3" y="156.0" font-size="12" fill="#444" font-weight="normal" text-anchor="middle">、</text><text x="316.5" y="175.3" font-size="12" fill="#444" font-weight="normal" text-anchor="middle">交</text><text x="316.5" y="187.6" font-size="12" fill="#444" font-weight="normal" text-anchor="middle">费</text><text x="173.7" y="308.2" font-size="12" fill="#444" font-weight="normal" text-anchor="middle">需</text><text x="173.7" y="320.3" font-size="12" fill="#444" font-weight="normal" text-anchor="middle">要</text><text x="173.7" y="332.4" font-size="12" fill="#444" font-weight="normal" text-anchor="middle">修</text><text x="173.7" y="344.5" font-size="12" fill="#444" font-weight="normal" text-anchor="middle">改</text><text x="165.4" y="382.7" font-size="11.5" fill="#444" font-weight="normal" text-anchor="middle">外</text><text x="165.4" y="394.8" font-size="11.5" fill="#444" font-weight="normal" text-anchor="middle">观</text><text x="165.4" y="406.9" font-size="11.5" fill="#444" font-weight="normal" text-anchor="middle">设</text><text x="165.4" y="419.0" font-size="11.5" fill="#444" font-weight="normal" text-anchor="middle">计</text><text x="179.6" y="382.7" font-size="11.5" fill="#444" font-weight="normal" text-anchor="middle">实</text><text x="179.6" y="394.8" font-size="11.5" fill="#444" font-weight="normal" text-anchor="middle">用</text><text x="179.6" y="406.9" font-size="11.5" fill="#444" font-weight="normal" text-anchor="middle">新</text><text x="179.6" y="419.0" font-size="11.5" fill="#444" font-weight="normal" text-anchor="middle">型</text><text x="268.7" y="339.5" font-size="12" fill="#444" font-weight="normal" text-anchor="middle" >初审合格</text><text x="176.8" y="530.6" font-size="12" fill="#444" font-weight="normal" text-anchor="middle">发</text><text x="176.8" y="542.1" font-size="12" fill="#444" font-weight="normal" text-anchor="middle">明</text><text x="176" y="580.6" font-size="12" fill="#444" font-weight="normal" text-anchor="middle">需</text><text x="176" y="592.6" font-size="12" fill="#444" font-weight="normal" text-anchor="middle">要</text><text x="176" y="604.6" font-size="12" fill="#444" font-weight="normal" text-anchor="middle">修</text><text x="176" y="616.6" font-size="12" fill="#444" font-weight="normal" text-anchor="middle">改</text><text x="233" y="558.3" font-size="12" fill="#444" font-weight="normal" text-anchor="middle" >合格</text><text x="139" y="648" font-size="12" fill="#444" font-weight="normal" text-anchor="middle" >补正</text><text x="139" y="664" font-size="12" fill="#444" font-weight="normal" text-anchor="middle" >不合格</text><text x="284" y="642.0" font-size="12" fill="#444" font-weight="normal" text-anchor="middle">合</text><text x="284" y="658.0" font-size="12" fill="#444" font-weight="normal" text-anchor="middle">格</text><text x="439.6" y="292.2" font-size="12" fill="#444" font-weight="normal" text-anchor="middle">合</text><text x="439.6" y="304.4" font-size="12" fill="#444" font-weight="normal" text-anchor="middle">格</text><text x="606" y="271.3" font-size="12" fill="#444" font-weight="normal" text-anchor="middle">合</text><text x="606" y="282.8" font-size="12" fill="#444" font-weight="normal" text-anchor="middle">格</text><text x="506" y="328.8" font-size="12" fill="#444" font-weight="normal" text-anchor="middle" >需要修改</text><text x="606" y="434.0" font-size="12" fill="#444" font-weight="normal" text-anchor="middle">补</text><text x="606" y="446.0" font-size="12" fill="#444" font-weight="normal" text-anchor="middle">正</text><text x="606" y="458.0" font-size="12" fill="#444" font-weight="normal" text-anchor="middle">不</text><text x="606" y="470.0" font-size="12" fill="#444" font-weight="normal" text-anchor="middle">合</text><text x="606" y="482.0" font-size="12" fill="#444" font-weight="normal" text-anchor="middle">格</text><text transform="translate(374.5,456) rotate(-44.5)" font-size="12" fill="#444" text-anchor="middle" y="4.2">自申请日起3年</text><text transform="translate(386,469.5) rotate(-44.5)" font-size="12" fill="#444" text-anchor="middle" y="4.2">内书面提出</text><text transform="translate(405.7,610.6) rotate(45)" font-size="12" fill="#444" text-anchor="middle" y="4.2">三年内未提出</text></svg></body></html>
